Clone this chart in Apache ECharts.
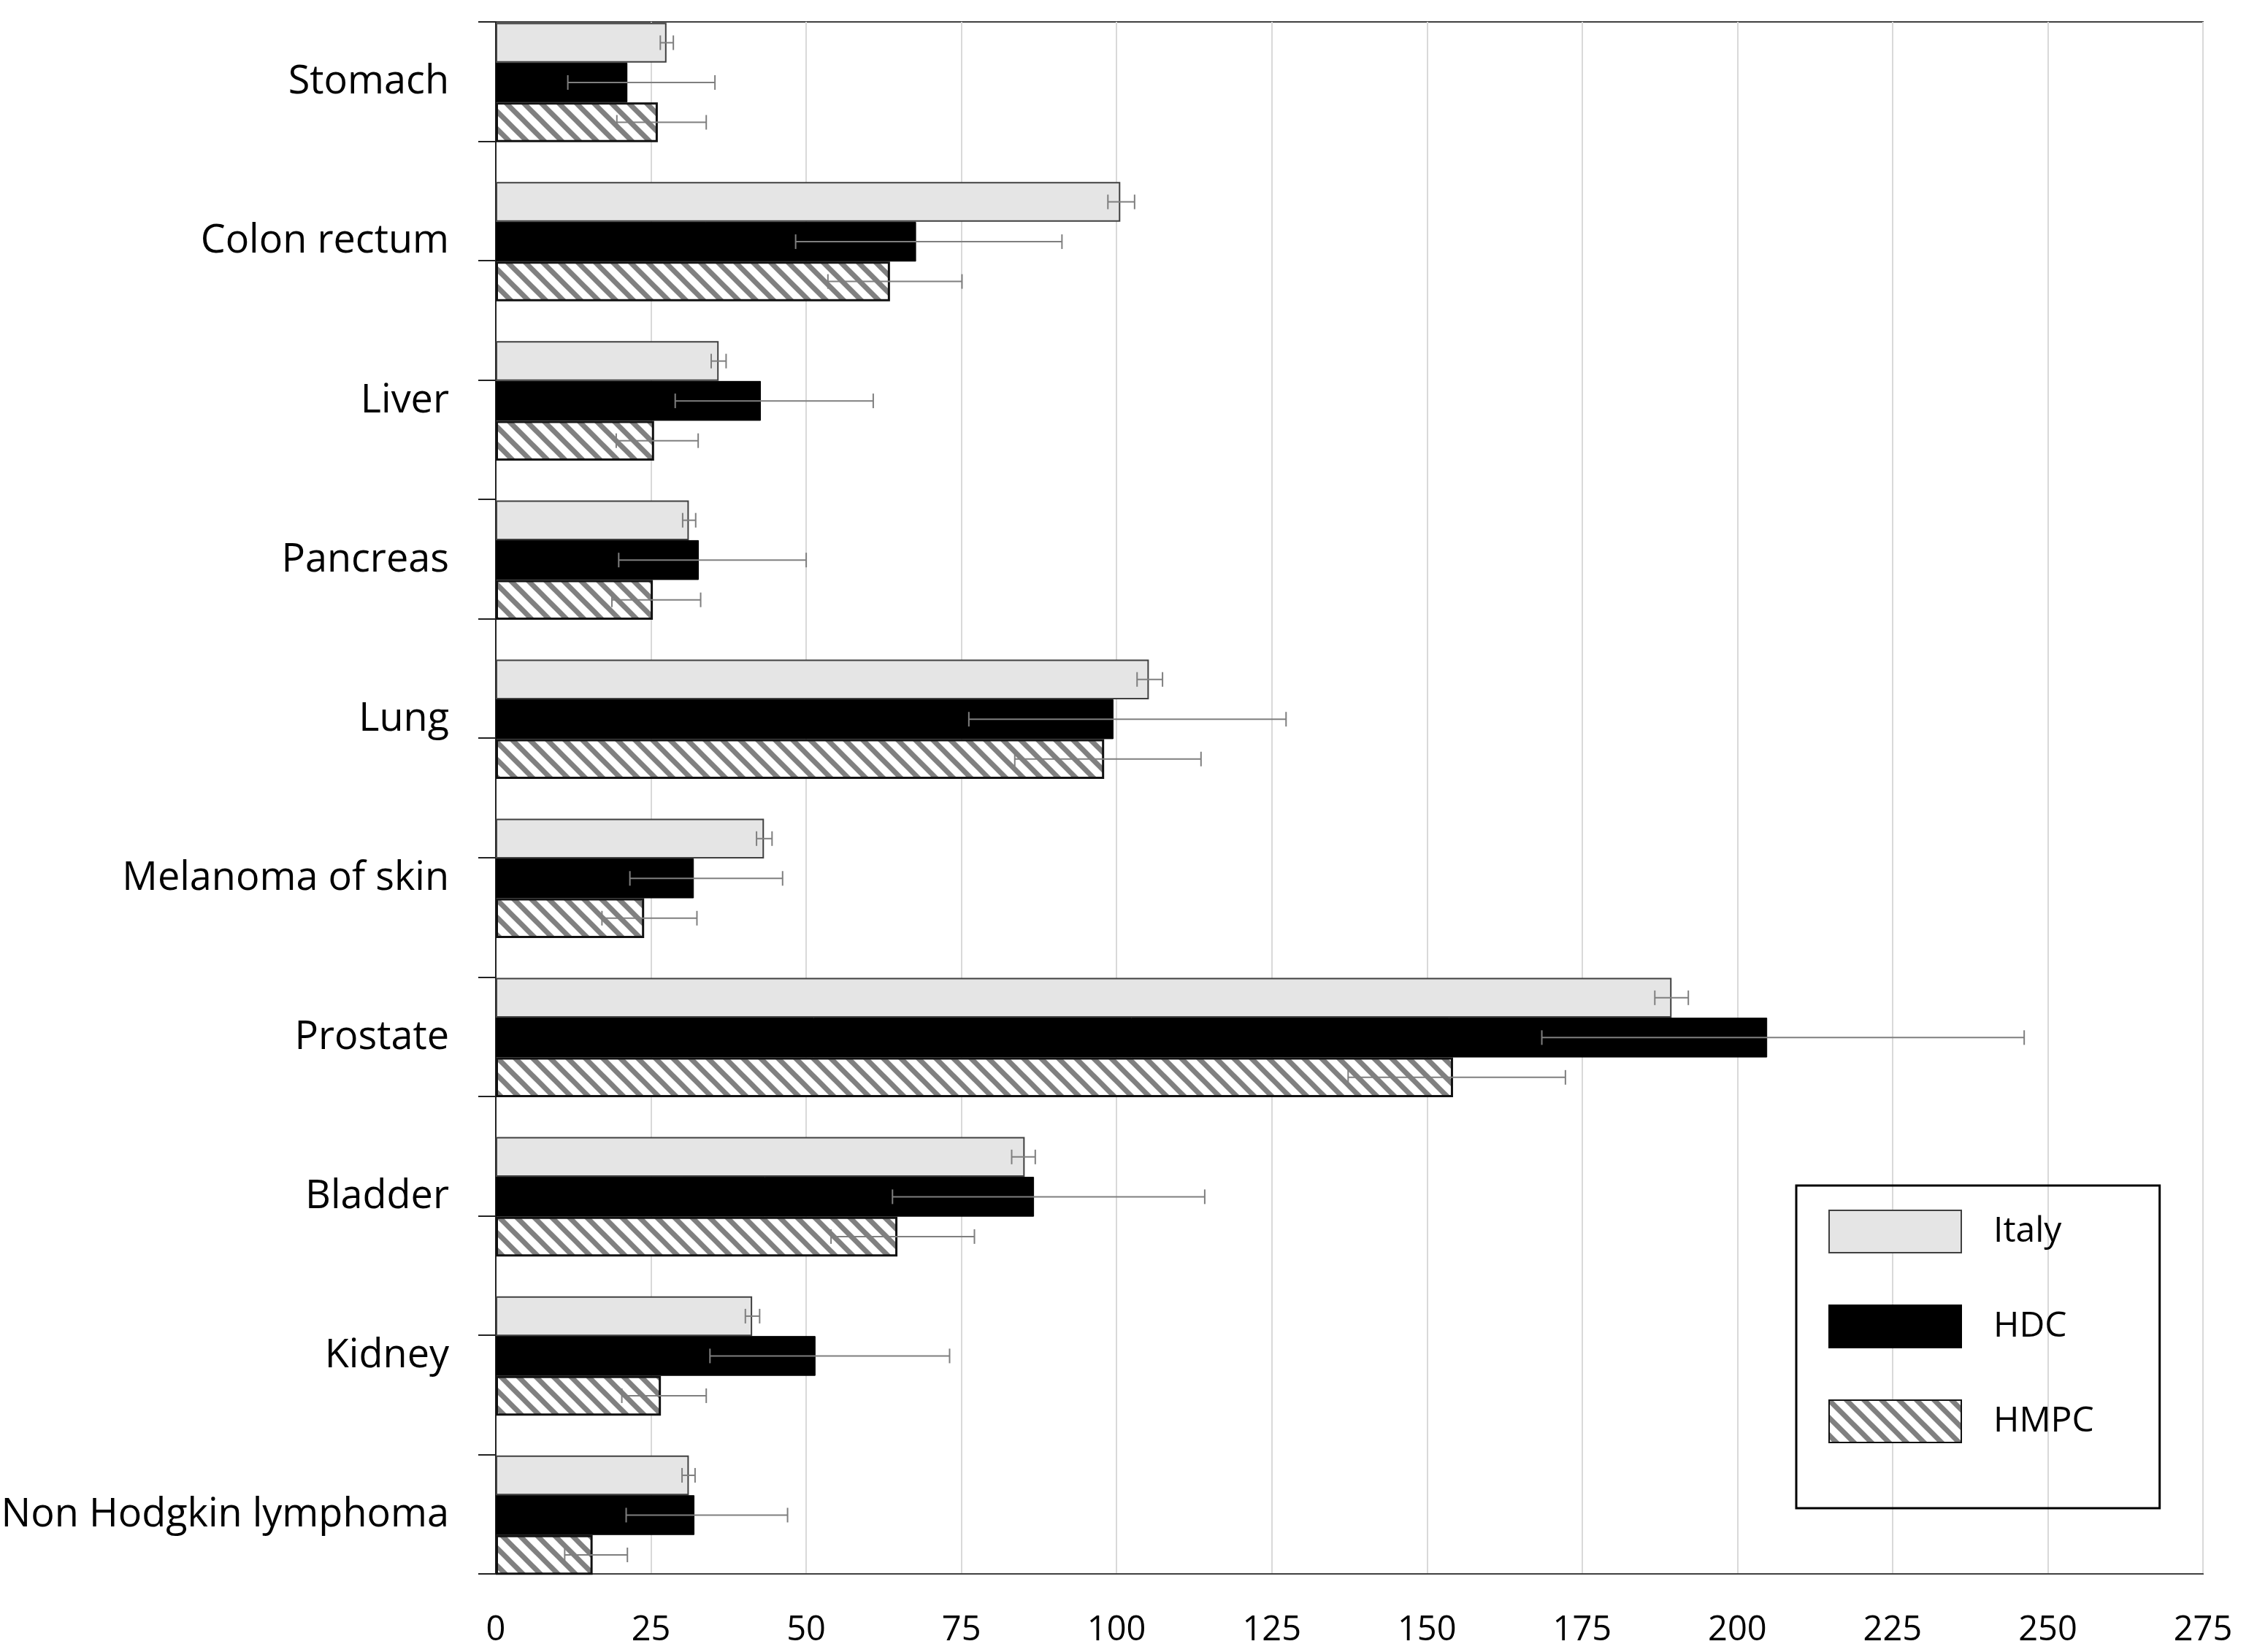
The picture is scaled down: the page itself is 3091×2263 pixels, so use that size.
<!DOCTYPE html>
<html>
<head>
<meta charset="utf-8">
<script src="https://cdn.jsdelivr.net/npm/echarts@6/dist/echarts.min.js"></script>
<style>
  html, body { margin: 0; padding: 0; background: #fff; }
  #chart { width: 3091px; height: 2263px; }
</style>
</head>
<body>
<div id="chart"></div>
<script>
// categories, top to bottom
var categories = ['Stomach', 'Colon rectum', 'Liver', 'Pancreas', 'Lung',
  'Melanoma of skin', 'Prostate', 'Bladder', 'Kidney', 'Non Hodgkin lymphoma'];

var italy     = [27.5, 100.6, 35.9, 31.1, 105.2, 43.2, 189.4, 85.2, 41.3, 31.1];
var italyLow  = [26.5,  98.6, 34.7, 30.1, 103.3, 42.0, 186.7, 83.1, 40.2, 30.0];
var italyHigh = [28.6, 102.9, 37.1, 32.2, 107.4, 44.5, 192.1, 86.9, 42.5, 32.1];

var hdc     = [21.2, 67.7, 42.7, 32.7,  99.5, 31.9, 204.8,  86.7, 51.5, 32.0];
var hdcLow  = [11.6, 48.3, 28.9, 19.8,  76.2, 21.6, 168.5,  63.9, 34.5, 21.0];
var hdcHigh = [35.3, 91.2, 60.8, 50.0, 127.3, 46.2, 246.2, 114.2, 73.1, 47.0];

var hmpc     = [26.1, 63.5, 25.5, 25.3,  98.0, 23.9, 154.2, 64.7, 26.6, 15.6];
var hmpcLow  = [19.5, 53.5, 19.4, 18.7,  83.6, 17.1, 137.3, 54.0, 20.3, 11.1];
var hmpcHigh = [33.9, 75.1, 32.6, 33.0, 113.6, 32.4, 172.3, 77.1, 33.9, 21.2];

var xTicks = { min: 0, max: 275, interval: 25 };

// diagonal hatch tile for HMPC
function hatch() {
  var c = document.createElement('canvas');
  c.width = 24; c.height = 24;
  var g = c.getContext('2d');
  g.fillStyle = '#fff';
  g.fillRect(0, 0, 24, 24);
  g.strokeStyle = '#808080';
  g.lineWidth = 7;
  for (var k = -1; k <= 1; k++) {
    g.beginPath();
    g.moveTo(k * 24 - 4, -4);
    g.lineTo(k * 24 + 28, 28);
    g.stroke();
  }
  return c;
}

// error bar rows: [low, category, high, series position]
var errRows = [];
[[italyLow, italyHigh], [hdcLow, hdcHigh], [hmpcLow, hmpcHigh]].forEach(function (p, k) {
  for (var i = 0; i < categories.length; i++) {
    errRows.push([p[0][i], i, p[1][i], k]);
  }
});

function renderErr(params, api) {
  var k = api.value(3);
  var lo = api.coord([api.value(0), api.value(1)]);
  var hi = api.coord([api.value(2), api.value(1)]);
  var band = Math.abs(api.size([0, 1])[1]);
  var y = lo[1] + (k - 1) * band * 0.25;
  var cap = 10;
  var st = { stroke: '#7f7f7f', lineWidth: 2 };
  return {
    type: 'group',
    children: [
      { type: 'line', shape: { x1: lo[0], y1: y, x2: hi[0], y2: y }, style: st },
      { type: 'line', shape: { x1: lo[0], y1: y - cap, x2: lo[0], y2: y + cap }, style: st },
      { type: 'line', shape: { x1: hi[0], y1: y - cap, x2: hi[0], y2: y + cap }, style: st }
    ]
  };
}

var font = 'Open Sans';
var chart = echarts.init(document.getElementById('chart'), null, { renderer: 'canvas' });

chart.setOption({
  backgroundColor: '#fff',
  animation: false,
  textStyle: { fontFamily: font },
  legend: {
    data: ['Italy', 'HDC', 'HMPC'],
    orient: 'vertical',
    left: 2460,
    top: 1624,
    padding: [33, 90, 89, 44],
    itemWidth: 181,
    itemHeight: 58,
    itemGap: 70,
    icon: 'rect',
    borderColor: '#000',
    borderWidth: 3,
    selectedMode: false,
    textStyle: { fontFamily: font, fontSize: 48, color: '#000', padding: [0, 0, 0, 39] }
  },
  grid: [
    // bars
    { left: 679, right: 74, top: 4, height: 2180.5, outerBoundsMode: 'none', containLabel: false },
    // frame, gridlines, ticks
    { left: 679, right: 74, top: 30, bottom: 107, outerBoundsMode: 'none', containLabel: false,
      show: true, borderColor: '#404040', borderWidth: 2 }
  ],
  xAxis: [
    { gridIndex: 0, type: 'value', min: xTicks.min, max: xTicks.max, interval: xTicks.interval, show: false },
    {
      gridIndex: 1, type: 'value', min: xTicks.min, max: xTicks.max, interval: xTicks.interval,
      axisLine: { show: true, lineStyle: { color: '#404040', width: 2 } },
      axisTick: { show: false },
      splitLine: { show: true, lineStyle: { color: '#d9d9d9', width: 2 } },
      axisLabel: { fontFamily: font, fontSize: 47, color: '#000', margin: 54 }
    }
  ],
  yAxis: [
    {
      gridIndex: 0, type: 'category', data: categories, inverse: true,
      axisLine: { show: false }, axisTick: { show: false },
      axisLabel: { fontFamily: font, fontSize: 54, color: '#000', margin: 64 }
    },
    {
      gridIndex: 1, type: 'value', min: 0, max: 13, interval: 1,
      axisLine: { show: true, lineStyle: { color: '#222', width: 2 } },
      axisTick: { show: true, length: 24, lineStyle: { color: '#222', width: 2 } },
      axisLabel: { show: false },
      splitLine: { show: false }
    }
  ],
  series: [
    {
      name: 'Italy', type: 'bar', data: italy, xAxisIndex: 0, yAxisIndex: 0,
      barCategoryGap: '25%', barGap: '0%',
      itemStyle: { color: '#e5e5e5', borderColor: '#404040', borderWidth: 2 }
    },
    {
      name: 'HDC', type: 'bar', data: hdc, xAxisIndex: 0, yAxisIndex: 0,
      barCategoryGap: '25%', barGap: '0%',
      itemStyle: { color: '#000', borderColor: '#000', borderWidth: 1 }
    },
    {
      name: 'HMPC', type: 'bar', data: hmpc, xAxisIndex: 0, yAxisIndex: 0,
      barCategoryGap: '25%', barGap: '0%',
      itemStyle: { color: { image: hatch(), repeat: 'repeat' }, borderColor: '#111', borderWidth: 3 }
    },
    {
      type: 'custom', xAxisIndex: 0, yAxisIndex: 0, z: 5,
      renderItem: renderErr,
      encode: { x: [0, 2], y: 1 },
      data: errRows
    }
  ]
});
</script>
</body>
</html>
